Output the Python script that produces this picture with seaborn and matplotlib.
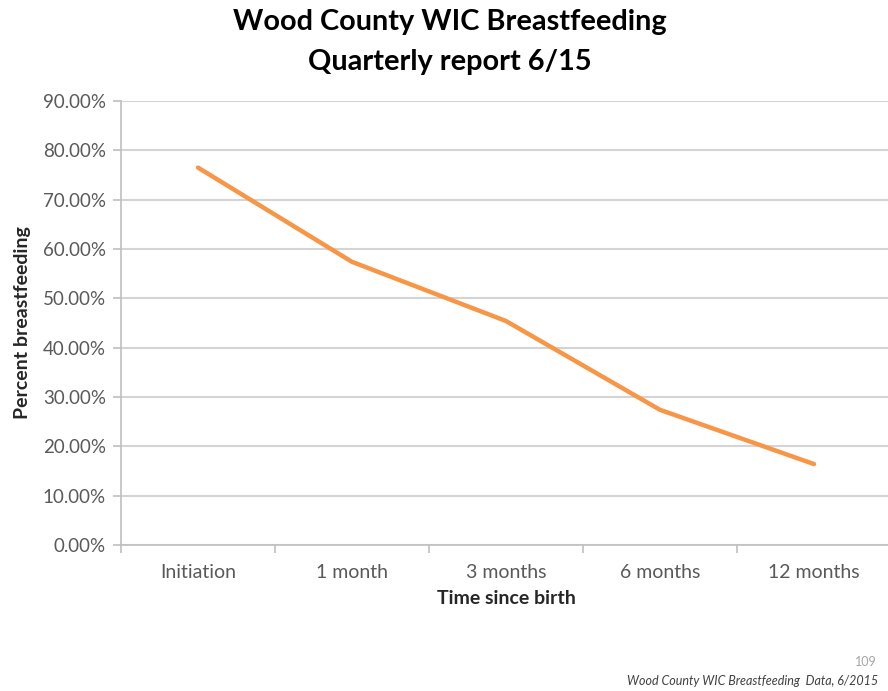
import pandas as pd
import matplotlib.pyplot as plt
import seaborn as sns
from matplotlib.ticker import PercentFormatter

zamanlar = ["Initiation", "1 month", "3 months", "6 months", "12 months"]
oranlar = [76.5, 57.4, 45.4, 27.4, 16.4]
y_ticks = [0, 10, 20, 30, 40, 50, 60, 70, 80, 90]

sns.set_theme(style="white")
plt.rcParams["font.family"] = ["Lato", "DejaVu Sans"]

df = pd.DataFrame({"Zaman": zamanlar, "Oran": oranlar})
df["x"] = range(len(df))

fig = plt.figure(figsize=(8.88, 6.91), dpi=100)
ax = fig.add_axes([121 / 888, 1 - 545 / 691, 770 / 888, 444 / 691])

sns.lineplot(data=df, x="x", y="Oran", ax=ax, color="#F79646", linewidth=3.2)

ax.set_xlim(-0.5, len(zamanlar) - 0.5)
ax.set_ylim(0, 90)
ax.set_yticks(y_ticks)
ax.yaxis.set_major_formatter(PercentFormatter(decimals=2))
ax.set_xticks(range(len(zamanlar)))
ax.set_xticklabels(zamanlar)
ax.set_xticks([i - 0.5 for i in range(len(zamanlar) + 1)], minor=True)

ax.grid(axis="y", color="#D4D4D4", linewidth=1.5)
ax.set_axisbelow(True)
for s in ["top", "right"]:
    ax.spines[s].set_visible(False)
for s in ["left", "bottom"]:
    ax.spines[s].set_color("#BFBFBF")
    ax.spines[s].set_linewidth(1.2)

ax.tick_params(axis="y", which="major", left=True, length=6, width=1.2,
               color="#BFBFBF", labelsize=13.5, labelcolor="#595959", pad=5)
ax.tick_params(axis="x", which="major", bottom=False, labelsize=14,
               labelcolor="#595959", pad=8)
ax.tick_params(axis="x", which="minor", bottom=True, length=6, width=1.2,
               color="#BFBFBF")

ax.set_xlabel("Time since birth", fontsize=14, fontweight="bold", labelpad=6)
ax.set_ylabel("Percent breastfeeding", fontsize=14, fontweight="bold", labelpad=8)

fig.text(450 / 888, 1 - 22 / 691, "Wood County WIC Breastfeeding", ha="center",
         va="center", fontsize=20.8, fontweight="bold", color="black")
fig.text(450 / 888, 1 - 62 / 691, "Quarterly report 6/15", ha="center",
         va="center", fontsize=20.8, fontweight="bold", color="black")

fig.text(877 / 888, 1 - 662 / 691, "109", ha="right", va="center",
         fontsize=9, color="#A6A6A6")
fig.text(878 / 888, 1 - 681 / 691, "Wood County WIC Breastfeeding  Data, 6/2015",
         ha="right", va="center", fontsize=9, style="italic", color="#404040")

fig.savefig("out.png", dpi=100)
plt.close(fig)
